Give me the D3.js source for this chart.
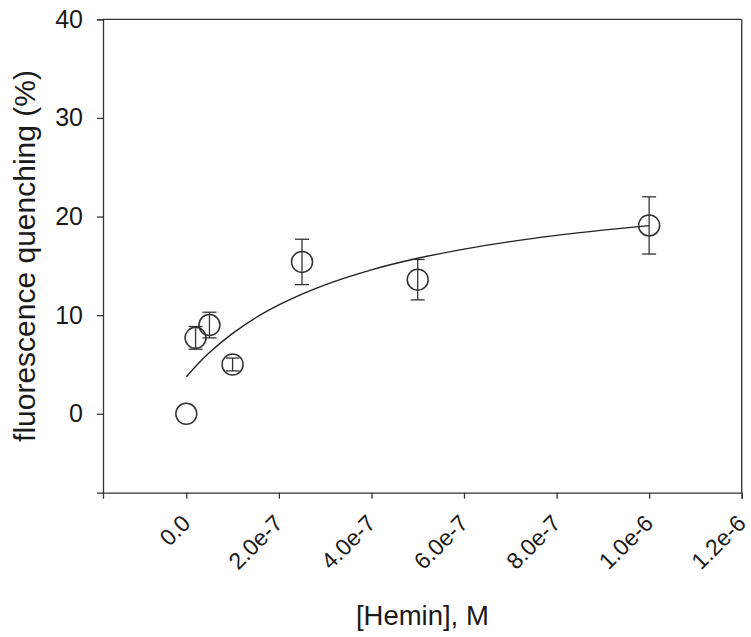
<!DOCTYPE html>
<html>
<head>
<meta charset="utf-8">
<script src="https://cdn.jsdelivr.net/npm/d3@7/dist/d3.min.js"></script>
<style>
  html, body { margin: 0; padding: 0; background: #fff; }
  svg { display: block; }
  text { font-family: "Liberation Sans", Arial, sans-serif; fill: #1a1a1a; }
</style>
</head>
<body>
<svg id="chart" width="751" height="637"></svg>
<script>
const hemin = [0, 2e-8, 5e-8, 1e-7, 2.5e-7, 5e-7, 1e-6];
const quenching = [0, 7.7, 9.0, 5.0, 15.4, 13.6, 19.1];
const errors = [0, 1.15, 1.3, 0.65, 2.3, 2.05, 2.9];

// Fitted curve
const curveX = [0, 2.5e-8, 5e-8, 1e-7, 1.5e-7, 2e-7, 2.5e-7, 3e-7, 4e-7, 5e-7, 6e-7, 7e-7, 8e-7, 9e-7, 1e-6];
const curveY = [3.75, 5.06, 6.21, 8.16, 9.74, 11.04, 12.14, 13.08, 14.60, 15.77, 16.70, 17.46, 18.09, 18.62, 19.08];

const xTicks = [0, 2e-7, 4e-7, 6e-7, 8e-7, 1e-6, 1.2e-6];
const xTickLabels = ["0.0", "2.0e-7", "4.0e-7", "6.0e-7", "8.0e-7", "1.0e-6", "1.2e-6"];
const yTicks = [0, 10, 20, 30, 40];

const xTitle = "[Hemin], M";
const yTitle = "fluorescence quenching (%)";

const svg = d3.select("#chart");
const L = 103, R = 741.7, T = 19.3, B = 492.7;
const ink = "#333";

const x = d3.scaleLinear().domain([-1.8e-7, 1.2e-6]).range([L, R]);
const y = d3.scaleLinear().domain([-8, 40]).range([B, T]);

// frame top/right
svg.append("line").attr("x1", L).attr("x2", R).attr("y1", T).attr("y2", T)
  .attr("stroke", ink).attr("stroke-width", 1.3);
svg.append("line").attr("x1", R).attr("x2", R).attr("y1", T).attr("y2", B)
  .attr("stroke", ink).attr("stroke-width", 1.3);

// x axis
const xAxis = d3.axisBottom(x).tickValues(xTicks).tickSize(6).tickFormat("");
const gx = svg.append("g").attr("transform", `translate(0,${B})`).call(xAxis);
gx.select(".domain").attr("stroke", ink).attr("stroke-width", 1.3);
gx.selectAll(".tick line").attr("stroke", ink).attr("stroke-width", 1.3);
gx.selectAll(".tick").append("text")
  .text((d, i) => xTickLabels[i])
  .attr("text-anchor", "end")
  .attr("font-size", 23)
  .attr("fill", "#1a1a1a")
  .attr("transform", "translate(5,32) rotate(-45)");

// y axis
const yAxis = d3.axisLeft(y).tickValues(yTicks).tickSize(6).tickPadding(14).tickFormat(d3.format("d"));
const gy = svg.append("g").attr("transform", `translate(${L},0)`).call(yAxis);
gy.select(".domain").attr("stroke", ink).attr("stroke-width", 1.3);
gy.selectAll(".tick line").attr("stroke", ink).attr("stroke-width", 1.3);
gy.selectAll(".tick text").attr("font-size", 25).attr("font-family", "Liberation Sans, Arial, sans-serif").attr("fill", "#1a1a1a");

// titles
svg.append("text").attr("x", (L + R) / 2).attr("y", 625)
  .attr("text-anchor", "middle").attr("font-size", 27.5).text(xTitle);
svg.append("text").attr("transform", `translate(35,${(T + B) / 2}) rotate(-90)`)
  .attr("text-anchor", "middle").attr("font-size", 30).text(yTitle);

// curve
const curveData = curveX.map((v, i) => [v, curveY[i]]);
svg.append("path").datum(curveData)
  .attr("d", d3.line().x(d => x(d[0])).y(d => y(d[1])).curve(d3.curveMonotoneX))
  .attr("fill", "none").attr("stroke", "#222").attr("stroke-width", 1.4);

// points
const pts = hemin.map((v, i) => ({ x: v, y: quenching[i], e: errors[i] }));
const capW = 7;
const gp = svg.append("g");
pts.forEach(p => {
  if (p.e > 0) {
    gp.append("line").attr("x1", x(p.x)).attr("x2", x(p.x))
      .attr("y1", y(p.y - p.e)).attr("y2", y(p.y + p.e))
      .attr("stroke", ink).attr("stroke-width", 1.3);
    [p.y - p.e, p.y + p.e].forEach(v => {
      gp.append("line").attr("x1", x(p.x) - capW).attr("x2", x(p.x) + capW)
        .attr("y1", y(v)).attr("y2", y(v))
        .attr("stroke", ink).attr("stroke-width", 1.3);
    });
  }
  gp.append("circle").attr("cx", x(p.x)).attr("cy", y(p.y)).attr("r", 10.5)
    .attr("fill", "none").attr("stroke", ink).attr("stroke-width", 1.5);
});
</script>
</body>
</html>
